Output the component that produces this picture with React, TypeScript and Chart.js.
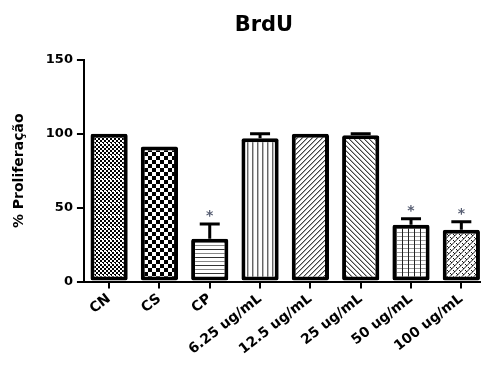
import React, { useEffect, useRef } from "react";
import { Chart, registerables } from "chart.js";

Chart.register(...registerables);

const categories = ["CN", "CS", "CP", "6.25 ug/mL", "12.5 ug/mL", "25 ug/mL", "50 ug/mL", "100 ug/mL"];
const values = [100, 91.5, 29, 97, 100, 99, 38.5, 35];
const errors = [0, 0, 10, 3, 0, 1, 4, 5.5];
const significant = [false, false, true, false, false, false, true, true];
const yTicks = [0, 50, 100, 150];
const titleText = "BrdU";
const yTitle = "% Proliferação";

const FONT = "'DejaVu Sans', sans-serif";

function makePattern(w: number, h: number, draw: (x: CanvasRenderingContext2D) => void) {
  const c = document.createElement("canvas");
  c.width = w;
  c.height = h;
  const x = c.getContext("2d")!;
  x.fillStyle = "#fff";
  x.fillRect(0, 0, w, h);
  draw(x);
  return x.createPattern(c, "repeat")!;
}

function buildPatterns() {
  const cn = makePattern(4, 12, (x) => {
    x.fillStyle = "#000";
    for (let r = 0; r < 12; r++)
      for (let col = 0; col < 4; col++) {
        if (r === 11) continue;
        if ((Math.floor(col / 2) + Math.floor(r / 2)) % 2 === 0) x.fillRect(col, r, 1, 1);
      }
    x.fillStyle = "#fff";
    x.fillRect(0, 11, 3, 1);
    x.fillStyle = "#000";
    x.fillRect(3, 11, 1, 1);
  });
  const cs = makePattern(8, 8, (x) => {
    x.fillStyle = "#000";
    x.fillRect(0, 0, 4, 4);
    x.fillRect(4, 4, 4, 4);
  });
  const cp = makePattern(4, 8, (x) => {
    x.fillStyle = "#333";
    x.fillRect(0, 1, 4, 1);
    x.fillStyle = "#888";
    x.fillRect(0, 5, 4, 1);
  });
  const v = makePattern(5, 2, (x) => {
    x.fillStyle = "#666";
    x.fillRect(2, 0, 1, 2);
    x.fillStyle = "#bbb";
    x.fillRect(3, 0, 1, 2);
  });
  const fwd = makePattern(5, 5, (x) => {
    for (let i = 0; i < 5; i++) {
      x.fillStyle = "#444";
      x.fillRect(i, 4 - i, 1, 1);
      x.fillStyle = "#aaa";
      x.fillRect((i + 1) % 5, 4 - i, 1, 1);
    }
  });
  const back = makePattern(5, 5, (x) => {
    for (let i = 0; i < 5; i++) {
      x.fillStyle = "#444";
      x.fillRect(i, i, 1, 1);
      x.fillStyle = "#aaa";
      x.fillRect((i + 1) % 5, i, 1, 1);
    }
  });
  const grid = makePattern(6, 4, (x) => {
    x.fillStyle = "#999";
    x.fillRect(0, 0, 6, 1);
    x.fillStyle = "#222";
    x.fillRect(0, 0, 1, 4);
  });
  const zig = makePattern(6, 6, (x) => {
    for (let i = 0; i < 6; i++) {
      x.fillStyle = "#888";
      x.fillRect(i, 5 - i, 1, 1);
      x.fillRect((i + 1) % 6, 5 - i, 1, 1);
    }
    x.fillStyle = "#111";
    x.fillRect(0, 3, 1, 1);
    x.fillRect(1, 4, 1, 1);
    x.fillRect(3, 0, 1, 1);
    x.fillRect(4, 1, 1, 1);
  });
  return [cn, cs, cp, v, fwd, back, grid, zig];
}

const extrasPlugin = {
  id: "extras",
  afterDatasetsDraw(chart: any) {
    const ctx = chart.ctx as CanvasRenderingContext2D;
    const meta = chart.getDatasetMeta(0);
    const ys = chart.scales.y;
    ctx.save();
    meta.data.forEach((bar: any, i: number) => {
      const x = bar.x;
      const top = ys.getPixelForValue(values[i] + errors[i]);
      if (errors[i] > 0) {
        ctx.strokeStyle = "#000";
        ctx.lineWidth = 3;
        ctx.beginPath();
        ctx.moveTo(x, ys.getPixelForValue(values[i]));
        ctx.lineTo(x, top);
        ctx.moveTo(x - 10, top);
        ctx.lineTo(x + 10, top);
        ctx.stroke();
      }
      if (significant[i]) {
        ctx.fillStyle = "#565d72";
        ctx.font = `bold 14px ${FONT}`;
        ctx.textAlign = "center";
        ctx.textBaseline = "alphabetic";
        ctx.fillText("*", x, top - 4);
      }
    });
    const area = chart.chartArea;
    ctx.fillStyle = "#000";
    ctx.font = `bold 21px ${FONT}`;
    ctx.textAlign = "center";
    ctx.textBaseline = "middle";
    ctx.fillText(titleText, area.left + (area.right - area.left) * 0.447, 26);
    ctx.restore();
  },
};

export default function App() {
  const ref = useRef<HTMLCanvasElement>(null);
  useEffect(() => {
    document.body.style.margin = "0";
    const patterns = buildPatterns();
    const chart = new Chart(ref.current!, {
      type: "bar",
      data: {
        labels: categories,
        datasets: [
          {
            data: values,
            backgroundColor: patterns as any,
            borderColor: "#000",
            borderWidth: 4,
            borderSkipped: false,
            borderRadius: 2,
            barPercentage: 0.74,
            categoryPercentage: 1,
          },
        ],
      },
      options: {
        responsive: false,
        animation: false,
        layout: { padding: { top: 60, left: 7, right: 1.5, bottom: 8 } },
        plugins: { legend: { display: false }, title: { display: false }, tooltip: { enabled: false } },
        scales: {
          x: {
            offset: true,
            grid: { offset: false, drawOnChartArea: false, drawTicks: true, tickLength: 7, color: "#000", lineWidth: 2 },
            border: { display: true, color: "#000", width: 2 },
            ticks: {
              color: "#000",
              font: { family: FONT, weight: "bold", size: 14 },
              minRotation: 38,
              maxRotation: 38,
              padding: 2,
              autoSkip: false,
            },
          },
          y: {
            min: 0,
            max: 150,
            afterBuildTicks: (scale: any) => {
              scale.ticks = yTicks.map((v) => ({ value: v }));
            },
            grid: { drawOnChartArea: false, drawTicks: true, tickLength: 7, color: "#000", lineWidth: 2 },
            border: { display: true, color: "#000", width: 2 },
            ticks: { color: "#000", font: { family: FONT, weight: "bold", size: 13 }, padding: 4 },
            title: {
              display: true,
              text: yTitle,
              color: "#000",
              font: { family: FONT, weight: "bold", size: 14 },
              padding: { top: 4, bottom: 14 },
            },
          },
        },
      },
      plugins: [extrasPlugin],
    });
    return () => chart.destroy();
  }, []);
  return (
    <div style={{ position: "absolute", left: 0, top: 0, width: 481, height: 368, overflow: "hidden", background: "#fff" }}>
      <canvas ref={ref} width={488} height={368} />
    </div>
  );
}
